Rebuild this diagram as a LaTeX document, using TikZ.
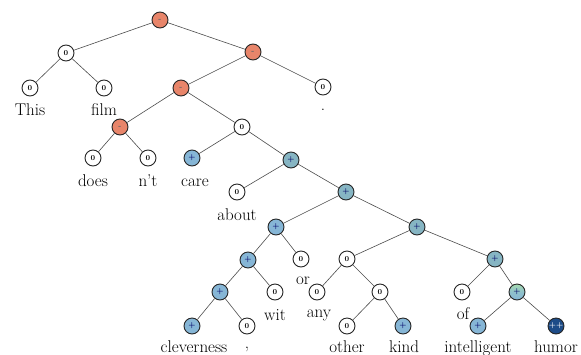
\documentclass[tikz,border=0pt]{standalone}
\begin{document}
\begin{tikzpicture}[x=1pt,y=-1pt,
  tn/.style={circle,draw=black!85,line width=0.9pt,minimum size=16pt,inner sep=0pt,
             font=\fontsize{7.5}{7.5}\selectfont\bfseries},
  zeronode/.style={tn,fill=white},
  negnode/.style={tn,fill=negc,text=black!60},
  posnode/.style={tn,fill=posc,text=blue!40!black},
  tealnode/.style={tn,fill=tealc,text=blue!40!black},
  greennode/.style={tn,top color=greenc,bottom color=posc,middle color=posc!70!greenc,text=blue!40!black},
  vposnode/.style={tn,fill=darkc,text=white},
  word/.style={anchor=base,inner sep=0pt,font=\fontsize{17}{20}\selectfont},
  br/.style={draw=black!70,line width=0.6pt}]
\definecolor{negc}{HTML}{E8856A}
\definecolor{posc}{HTML}{86B6D6}
\definecolor{tealc}{HTML}{86B5C3}
\definecolor{greenc}{HTML}{A5DAB0}
\definecolor{darkc}{HTML}{1D4C88}
\useasboundingbox (0,0) rectangle (581,354);

% internal nodes and leaves
\node[negnode]  (r)    at (160,20) {-};
\node[zeronode] (n1)   at (66,53)  {0};
\node[zeronode] (this) at (30,88)  {0};
\node[zeronode] (film) at (104,88) {0};
\node[negnode]  (n2)   at (253,52) {-};
\node[zeronode] (dot)  at (323,87) {0};
\node[negnode]  (n3)   at (181,88) {-};
\node[negnode]  (n4)   at (120,127) {-};
\node[zeronode] (does) at (93,158) {0};
\node[zeronode] (nt)   at (148,158) {0};
\node[zeronode] (n5)   at (242,127) {0};
\node[posnode]  (care) at (192,158) {+};
\node[tealnode] (n6)   at (291,160) {+};
\node[zeronode] (about) at (237,192) {0};
\node[tealnode] (n7)   at (346,192) {+};
\node[posnode]  (n8)   at (276,227) {+};
\node[posnode]  (n9)   at (248,260) {+};
\node[zeronode] (or)   at (301,259) {0};
\node[posnode]  (n10)  at (220,292) {+};
\node[zeronode] (wit)  at (275,292) {0};
\node[posnode]  (clev) at (192,326) {+};
\node[zeronode] (comma) at (247,326) {0};
\node[tealnode] (n11)  at (417,227) {+};
\node[zeronode] (n12)  at (347,259) {0};
\node[zeronode] (any)  at (317,292) {0};
\node[zeronode] (n13)  at (380,292) {0};
\node[zeronode] (other) at (347,326) {0};
\node[posnode]  (kind) at (403,326) {+};
\node[tealnode] (n14)  at (495,259) {+};
\node[zeronode] (of)   at (462,292) {0};
\node[greennode] (n15) at (517,292) {+};
\node[posnode]  (intel) at (478,326) {+};
\node[vposnode] (humor) at (556,326) {++};

% branches
\foreach \a/\b in {r/n1,r/n2,n1/this,n1/film,n2/n3,n2/dot,n3/n4,n3/n5,n4/does,n4/nt,
  n5/care,n5/n6,n6/about,n6/n7,n7/n8,n7/n11,n8/n9,n8/or,n9/n10,n9/wit,n10/clev,n10/comma,
  n11/n12,n11/n14,n12/any,n12/n13,n13/other,n13/kind,n14/of,n14/n15,n15/intel,n15/humor}
  \path[br] (\a) -- (\b);

% words
\node[word] (wThis)  at (30,115)  {This};
\node[word] (wFilm)  at (104,115) {film};
\node[word] (wDot)   at (323,110) {.};
\node[word] (wDoes)  at (93,186)  {does};
\node[word] (wNt)    at (148,186) {n't};
\node[word] (wCare)  at (195,186) {care};
\node[word] (wAbout) at (237,220) {about};
\node[word] (wOr)    at (303,284) {or};
\node[word] (wWit)   at (275,320) {wit};
\node[word] (wAny)   at (319,317) {any};
\node[word] (wOf)    at (463,319) {of};
\node[word] (wClev)  at (194,352) {cleverness};
\node[word] (wComma) at (247,348) {,};
\node[word] (wOther) at (347,352) {other};
\node[word] (wKind)  at (404,352) {kind};
\node[word] (wIntel) at (478,352) {intelligent};
\node[word] (wHumor) at (556,352) {humor};
\end{tikzpicture}
\end{document}
